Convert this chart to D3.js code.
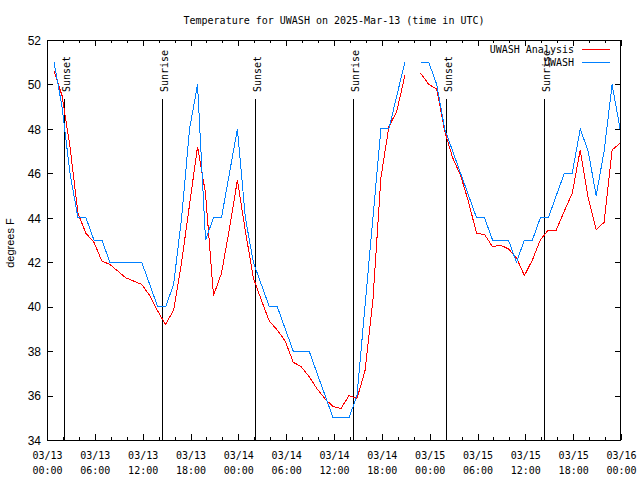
<!DOCTYPE html>
<html><head><meta charset="utf-8">
<script src="https://cdn.jsdelivr.net/npm/d3@7"></script>
<style>
html,body{margin:0;padding:0;background:#fff;}
svg{display:block;}
.mono{font-family:"DejaVu Sans Mono","Liberation Mono",monospace;font-size:10px;fill:#000;}
.sans{font-family:"Liberation Sans",Arial,sans-serif;fill:#000;}
</style></head>
<body>
<script>
// ---- data ----
const firstObs = "2025-03-13T00:53:00Z";   // hourly series start
const seriesNames = ["UWASH Analysis", "UWASH"];
const analysisTemps = [50.6,49.5,47.2,44.2,43.3,42.9,42.05,41.9,41.6,41.3,41.15,41.0,40.5,39.8,39.2,39.85,42.0,44.6,47.2,45.1,40.5,41.5,43.5,45.7,
  43.4,41.3,40.3,39.35,38.95,38.45,37.5,37.3,36.85,36.3,35.85,35.5,35.42,36.0,35.87,37.1,40.3,45.8,48.1,48.8,50.4,null,50.5,50.0,
  49.8,47.9,46.7,45.9,44.7,43.3,43.25,42.7,42.77,42.6,42.2,41.4,42.1,43.0,43.45,43.45,44.3,45.1,47.05,44.9,43.45,43.8,47.05,47.35];
const obsTemps = [51,49,46,44,44,43,43,42,42,42,42,42,41,40,40,41,44,48,50,43,44,44,46,48,
  44,42,41,40,40,39,38,38,38,37,36,35,35,35,36,40,44,48,48,49.5,51,null,51,51,
  50,48,47,46,45,44,44,43,43,43,42,43,43,44,44,45,46,46,48,47,45,47,50,48];
const sunEvents = [
  {label:"Sunset",  time:"2025-03-13T02:05:00Z"},
  {label:"Sunrise", time:"2025-03-13T14:28:00Z"},
  {label:"Sunset",  time:"2025-03-14T02:08:00Z"},
  {label:"Sunrise", time:"2025-03-14T14:25:00Z"},
  {label:"Sunset",  time:"2025-03-15T02:05:00Z"},
  {label:"Sunrise", time:"2025-03-15T14:24:00Z"}
];
const yTicks = [34,36,38,40,42,44,46,48,50,52];
const title = "Temperature for UWASH on 2025-Mar-13 (time in UTC)";
const yLabel = "degrees F";

// ---- layout ----
const W = 640, H = 480;
const L = 47, R = 621, T = 40, B = 440;
const svg = d3.select("body").append("svg").attr("width", W).attr("height", H);

const t0 = new Date(firstObs).getTime();
const times = analysisTemps.map((_, i) => new Date(t0 + i * 3600e3));

const x = d3.scaleUtc()
  .domain([new Date("2025-03-13T00:00:00Z"), new Date("2025-03-16T00:00:00Z")])
  .range([L, R]);
const y = d3.scaleLinear().domain([34, 52]).range([B, T]);

// axes (ticks inward, mirrored)
const majorT = d3.utcHour.every(6), minorT = d3.utcHour.every(2);
function styleAxis(g){ g.select(".domain").remove(); g.selectAll("line").attr("stroke","#000").attr("shape-rendering","crispEdges"); }

svg.append("g").attr("transform",`translate(0,${B})`)
  .call(d3.axisBottom(x).ticks(minorT).tickSize(-3).tickFormat("")).call(styleAxis);
svg.append("g").attr("transform",`translate(0,${T})`)
  .call(d3.axisTop(x).ticks(minorT).tickSize(-3).tickFormat("")).call(styleAxis);
const xb = svg.append("g").attr("transform",`translate(0,${B})`)
  .call(d3.axisBottom(x).ticks(majorT).tickSize(-6).tickFormat(d3.utcFormat("%m/%d|%H:%M"))).call(styleAxis);
svg.append("g").attr("transform",`translate(0,${T})`)
  .call(d3.axisTop(x).ticks(majorT).tickSize(-6).tickFormat("")).call(styleAxis);

xb.selectAll(".tick text").each(function(d){
  const parts = d3.utcFormat("%m/%d|%H:%M")(d).split("|");
  const t = d3.select(this).text(null).attr("class","mono").attr("y",null).attr("dy",null)
     .attr("text-anchor","middle").attr("font-family",null).attr("font-size",null);
  t.append("tspan").attr("x",0).attr("y",19).text(parts[0]);
  t.append("tspan").attr("x",0).attr("y",34).text(parts[1]);
});

const yl = svg.append("g").attr("transform",`translate(${L},0)`)
  .call(d3.axisLeft(y).tickValues(yTicks).tickSize(-6).tickPadding(6)).call(styleAxis);
yl.selectAll(".tick text").attr("class","sans").attr("font-size","12px").attr("font-family",null).attr("dy","0.36em");
svg.append("g").attr("transform",`translate(${R},0)`)
  .call(d3.axisRight(y).tickValues(yTicks).tickSize(-6).tickFormat("")).call(styleAxis);

// frame
svg.append("rect").attr("x",L+0.5).attr("y",T+0.5).attr("width",R-L-1).attr("height",B-T)
  .attr("fill","none").attr("stroke","#000").attr("shape-rendering","crispEdges");

// sun lines
const sg = svg.append("g");
sunEvents.forEach(e => {
  const sx = Math.round(x(new Date(e.time))) + 0.5;
  sg.append("line").attr("x1",sx).attr("x2",sx).attr("y1",99).attr("y2",B)
    .attr("stroke","#000").attr("shape-rendering","crispEdges");
  sg.append("text").attr("class","mono").attr("transform",`translate(${sx+5},92) rotate(-90)`)
    .attr("text-anchor","start").text(e.label);
});

// series
const line = d3.line().defined(d => d[1] != null).x(d => x(d[0])).y(d => y(d[1]));
const colors = ["#ff0000", "#0080ff"];
[analysisTemps, obsTemps].forEach((vals, k) => {
  svg.append("path").datum(vals.map((v,i) => [times[i], v]))
    .attr("d", line).attr("fill","none").attr("stroke",colors[k]).attr("stroke-width",1)
    .attr("shape-rendering","crispEdges");
});

// legend
seriesNames.forEach((n, k) => {
  const ly = 49 + k * 13;
  svg.append("text").attr("class","mono").attr("x",574).attr("y",ly+3.5).attr("text-anchor","end").text(n);
  svg.append("line").attr("x1",582).attr("x2",610).attr("y1",ly+0.5).attr("y2",ly+0.5)
    .attr("stroke",colors[k]).attr("shape-rendering","crispEdges");
});

// title & y label
svg.append("text").attr("class","mono").attr("x",(L+R)/2).attr("y",24).attr("text-anchor","middle").text(title);
svg.append("text").attr("class","sans").attr("font-size","11px")
  .attr("transform",`translate(14,243) rotate(-90)`).attr("text-anchor","middle").text(yLabel);
</script>
</body></html>
